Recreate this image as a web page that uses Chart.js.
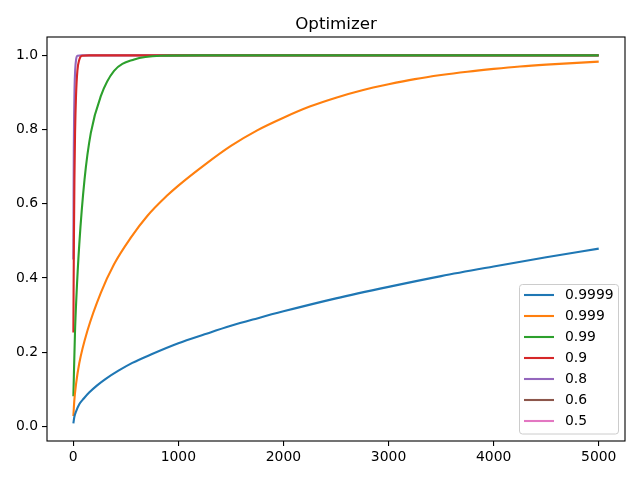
<!DOCTYPE html>
<html>
<head>
<meta charset="utf-8">
<script src="https://cdn.jsdelivr.net/npm/chart.js@4"></script>
<style>
html,body{margin:0;padding:0;background:#fff;}
canvas{display:block;}
</style>
</head>
<body>
<canvas id="c" width="640" height="480"></canvas>
<script>
const titleText = "Optimizer";
const seriesLabels = ["0.9999", "0.999", "0.99", "0.9", "0.8", "0.6", "0.5"];
const seriesColors = ["#1f77b4", "#ff7f0e", "#2ca02c", "#d62728", "#9467bd", "#8c564b", "#e377c2"];

const x9999 = [1, 10, 25, 57, 100, 151, 230, 309, 430, 562, 750, 1000, 1250, 1500, 1750, 2000, 2500, 3000, 3500, 4000, 4500, 5000];
const y9999 = [0.008, 0.025, 0.039, 0.0595, 0.075, 0.091, 0.111, 0.128, 0.15, 0.171, 0.195, 0.224, 0.248, 0.271, 0.291, 0.31, 0.345, 0.376, 0.405, 0.431, 0.456, 0.479];

const x999 = [1, 10, 26, 57, 136, 262, 388, 546, 704, 893, 1000, 1250, 1500, 1750, 2000, 2250, 2500, 2750, 3000, 3250, 3500, 3750, 4000, 4250, 4500, 4750, 5000];
const y999 = [0.028, 0.07, 0.113, 0.17, 0.259, 0.36, 0.437, 0.508, 0.567, 0.622, 0.649, 0.705, 0.756, 0.798, 0.832, 0.862, 0.886, 0.906, 0.922, 0.936, 0.947, 0.956, 0.9635, 0.97, 0.975, 0.979, 0.983];

const x99 = [1, 16, 30, 57, 107, 167, 262, 388, 580, 830, 1200, 5000];
const y99 = [0.081, 0.25, 0.35, 0.49, 0.665, 0.791, 0.89, 0.958, 0.989, 0.999, 1.0, 1.0];

const x9 = [1, 3, 6, 11, 17, 26, 39, 58, 83, 150, 5000];
const y9 = [0.253, 0.36, 0.5, 0.665, 0.79, 0.89, 0.958, 0.989, 0.999, 1.0, 1.0];

const x8 = [1, 3, 5, 8, 12, 18, 27, 40, 80, 5000];
const y8 = [0.45, 0.62, 0.74, 0.84, 0.91, 0.96, 0.989, 0.999, 1.0, 1.0];

const x6 = [];
const y6 = [];
const x5 = [];
const y5 = [];

const xTicks = [0, 1000, 2000, 3000, 4000, 5000];
const yTicks = [0.0, 0.2, 0.4, 0.6, 0.8, 1.0];

const xs = [x9999, x999, x99, x9, x8, x6, x5];
const ys = [y9999, y999, y99, y9, y8, y6, y5];

const FONT = "'DejaVu Sans', sans-serif";

const datasets = seriesLabels.map((lab, i) => ({
  label: lab,
  data: xs[i].map((x, j) => ({x: x, y: ys[i][j]})),
  borderColor: seriesColors[i],
  backgroundColor: seriesColors[i],
  borderWidth: 2.1,
  pointRadius: 0,
  fill: false,
  cubicInterpolationMode: 'monotone'
}));

const framePlugin = {
  id: 'frame',
  afterDraw(chart) {
    const ctx = chart.ctx;
    const a = chart.chartArea;
    ctx.save();
    ctx.strokeStyle = '#000';
    ctx.lineWidth = 1.1;
    ctx.strokeRect(a.left, a.top, a.right - a.left, a.bottom - a.top);
    // title
    ctx.fillStyle = '#000';
    ctx.font = "16.7px " + FONT;
    ctx.textAlign = 'center';
    ctx.textBaseline = 'alphabetic';
    ctx.fillText(titleText, (a.left + a.right) / 2, a.top - 8.5);
    // legend
    const bx = 519.5, by = 284.5, bw = 99, bh = 149.5;
    ctx.fillStyle = 'rgba(255,255,255,0.8)';
    ctx.strokeStyle = '#cccccc';
    ctx.lineWidth = 1;
    ctx.beginPath();
    if (ctx.roundRect) ctx.roundRect(bx, by, bw, bh, 3); else ctx.rect(bx, by, bw, bh);
    ctx.fill();
    ctx.stroke();
    ctx.font = "13.9px " + FONT;
    ctx.textAlign = 'left';
    ctx.textBaseline = 'middle';
    chart.data.datasets.forEach((ds, i) => {
      const yy = 295 + i * 21;
      ctx.strokeStyle = ds.borderColor;
      ctx.lineWidth = 2.1;
      ctx.beginPath();
      ctx.moveTo(524, yy);
      ctx.lineTo(554, yy);
      ctx.stroke();
      ctx.fillStyle = '#000';
      ctx.fillText(ds.label, 565, yy + 0.5);
    });
    ctx.restore();
  }
};

new Chart(document.getElementById('c'), {
  type: 'line',
  data: { datasets: datasets },
  options: {
    responsive: false,
    devicePixelRatio: 1,
    animation: false,
    layout: { padding: { top: 37, right: 15, left: 0, bottom: 0 } },
    plugins: { legend: { display: false }, title: { display: false }, tooltip: { enabled: false } },
    scales: {
      x: {
        type: 'linear',
        min: -250,
        max: 5250,
        afterBuildTicks: (s) => { s.ticks = xTicks.map(v => ({value: v})); },
        afterFit: (s) => { s.height = 39; },
        border: { display: false },
        grid: { drawOnChartArea: false, drawTicks: true, tickLength: 5, color: '#000', lineWidth: 1.1 },
        ticks: { color: '#000', font: { family: FONT, size: 13.9 }, padding: 3, maxRotation: 0,
                 callback: (v) => String(v) }
      },
      y: {
        type: 'linear',
        min: -0.0395,
        max: 1.0495,
        afterBuildTicks: (s) => { s.ticks = yTicks.map(v => ({value: v})); },
        afterFit: (s) => { s.width = 47; },
        border: { display: false },
        grid: { drawOnChartArea: false, drawTicks: true, tickLength: 5, color: '#000', lineWidth: 1.1 },
        ticks: { color: '#000', font: { family: FONT, size: 13.9 }, padding: 4,
                 callback: (v) => Number(v).toFixed(1) }
      }
    }
  },
  plugins: [framePlugin]
});
</script>
</body>
</html>
